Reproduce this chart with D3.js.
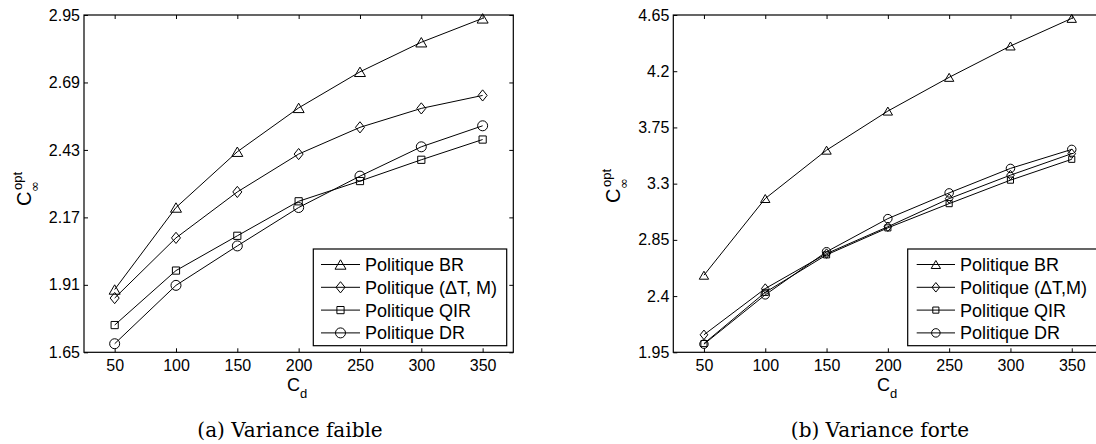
<!DOCTYPE html>
<html><head><meta charset="utf-8">
<script src="https://cdn.jsdelivr.net/npm/d3@7"></script>
<style>
html,body{margin:0;padding:0;background:#fff;}
svg{display:block;}
</style>
</head><body>
<svg id="chart" width="1096" height="444"></svg>
<script>
// ---------- data ----------
const cdValues = [50, 100, 150, 200, 250, 300, 350];
const xTicks = [50, 100, 150, 200, 250, 300, 350];

const namesA = ["Politique BR", "Politique (\u0394T, M)", "Politique QIR", "Politique DR"];
const namesB = ["Politique BR", "Politique (\u0394T,M)", "Politique QIR", "Politique DR"];
const markerKinds = ["triangle", "diamond", "square", "circle"];

// (a) Variance faible
const faibleBR  = [1.892, 2.208, 2.423, 2.592, 2.731, 2.845, 2.937];
const faibleDTM = [1.859, 2.091, 2.268, 2.414, 2.517, 2.590, 2.640];
const faibleQIR = [1.755, 1.965, 2.099, 2.232, 2.310, 2.392, 2.470];
const faibleDR  = [1.683, 1.908, 2.060, 2.208, 2.329, 2.442, 2.523];
const yTicksA = [1.65, 1.91, 2.17, 2.43, 2.69, 2.95];

// (b) Variance forte
const forteBR  = [2.567, 3.181, 3.568, 3.881, 4.151, 4.402, 4.623];
const forteDTM = [2.090, 2.460, 2.740, 2.955, 3.180, 3.368, 3.540];
const forteQIR = [2.020, 2.430, 2.730, 2.946, 3.140, 3.328, 3.495];
const forteDR  = [2.015, 2.410, 2.755, 3.020, 3.226, 3.422, 3.574];
const yTicksB = [1.95, 2.4, 2.85, 3.3, 3.75, 4.2, 4.65];

const captions = ["(a) Variance faible", "(b) Variance forte"];

// ---------- layout ----------
const panels = [
  { x0: 84, x1: 513.3, y0: 15, y1: 352.3, yDomain: [1.65, 2.95], yTicks: yTicksA,
    series: [faibleBR, faibleDTM, faibleQIR, faibleDR], names: namesA, ms: 1,
    legend: { x: 313.3, y: 249, w: 193.4, h: 96.7, l0: 321, l1: 360, tx: 365, r0: 264.5, step: 22.8 },
    ylab: [31, 206], xlab: 287, cap: 290 },
  { x0: 673.3, x1: 1102.4, y0: 15, y1: 352.3, yDomain: [1.95, 4.65], yTicks: yTicksB,
    series: [forteBR, forteDTM, forteQIR, forteDR], names: namesB, ms: 0.85,
    legend: { x: 907.7, y: 249, w: 192, h: 96.7, l0: 916.7, l1: 955, tx: 960, r0: 264.5, step: 22.8 },
    ylab: [620, 203], xlab: 877, cap: 880 }
];

const svg = d3.select("#chart");
const FONT = "'Liberation Sans', Arial, Helvetica, sans-serif";

function markerPath(kind, s) {
  if (kind === "triangle") {
    const hw = 5.5 * s, hh = 4.7 * s;
    return `M0,${-hh}L${hw},${hh}L${-hw},${hh}Z`;
  }
  if (kind === "diamond") {
    const hw = 4.5 * s, hh = 5.6 * s;
    return `M0,${-hh}L${hw},0L0,${hh}L${-hw},0Z`;
  }
  if (kind === "square") {
    const h = 3.6 * s;
    return `M${-h},${-h}H${h}V${h}H${-h}Z`;
  }
  const r = 5 * s;
  return `M${r},0A${r},${r} 0 1,1 ${-r},0A${r},${r} 0 1,1 ${r},0Z`;
}

panels.forEach((p, pi) => {
  const x = d3.scaleLinear().domain([25, 375]).range([p.x0, p.x1]);
  const y = d3.scaleLinear().domain(p.yDomain).range([p.y1, p.y0]);
  const g = svg.append("g");

  // axes
  const ax = g.append("g").attr("transform", `translate(0,${p.y1})`)
    .call(d3.axisBottom(x).tickValues(xTicks).tickSize(-4).tickPadding(7).tickFormat(d3.format("d")));
  const axT = g.append("g").attr("transform", `translate(0,${p.y0})`)
    .call(d3.axisTop(x).tickValues(xTicks).tickSize(-4).tickFormat(""));
  const ay = g.append("g").attr("transform", `translate(${p.x0},0)`)
    .call(d3.axisLeft(y).tickValues(p.yTicks).tickSize(-4).tickPadding(4).tickFormat(d => String(d)));
  const ayR = g.append("g").attr("transform", `translate(${p.x1},0)`)
    .call(d3.axisRight(y).tickValues(p.yTicks).tickSize(-4).tickFormat(""));
  [ax, axT, ay, ayR].forEach(a => {
    a.select(".domain").remove();
    a.selectAll(".tick line").attr("stroke", "#000").attr("stroke-width", 1);
    a.selectAll("text").attr("font-family", FONT).attr("font-size", 16).attr("fill", "#000");
  });

  // frame
  g.append("rect").attr("x", p.x0).attr("y", p.y0)
    .attr("width", p.x1 - p.x0).attr("height", p.y1 - p.y0)
    .attr("fill", "none").attr("stroke", "#000").attr("stroke-width", 1.2);

  // series
  const line = d3.line().x((d, i) => x(cdValues[i])).y(d => y(d));
  p.series.forEach((vals, si) => {
    g.append("path").datum(vals).attr("d", line)
      .attr("fill", "none").attr("stroke", "#000").attr("stroke-width", 1);
    g.selectAll(null).data(vals).enter().append("path")
      .attr("transform", (d, i) => `translate(${x(cdValues[i])},${y(d)})`)
      .attr("d", markerPath(markerKinds[si], p.ms))
      .attr("fill", "none").attr("stroke", "#000").attr("stroke-width", 1);
  });

  // legend
  const L = p.legend;
  g.append("rect").attr("x", L.x).attr("y", L.y).attr("width", L.w).attr("height", L.h)
    .attr("fill", "#fff").attr("stroke", "#000").attr("stroke-width", 1.2);
  p.names.forEach((nm, si) => {
    const ry = L.r0 + si * L.step;
    g.append("line").attr("x1", L.l0).attr("x2", L.l1).attr("y1", ry).attr("y2", ry)
      .attr("stroke", "#000").attr("stroke-width", 1);
    g.append("path").attr("transform", `translate(${(L.l0 + L.l1) / 2},${ry})`)
      .attr("d", markerPath(markerKinds[si], p.ms))
      .attr("fill", "none").attr("stroke", "#000").attr("stroke-width", 1);
    g.append("text").attr("x", L.tx).attr("y", ry + 6.5)
      .attr("font-family", FONT).attr("font-size", 18).attr("fill", "#000").text(nm);
  });

  // y label  C^opt_inf
  const yl = g.append("g").attr("transform", `translate(${p.ylab[0]},${p.ylab[1]}) rotate(-90)`);
  yl.append("text").attr("x", 0).attr("y", 0).attr("font-family", FONT).attr("font-size", 20).text("C");
  yl.append("text").attr("x", 16).attr("y", -9).attr("font-family", FONT).attr("font-size", 13).text("opt");
  yl.append("text").attr("x", 14).attr("y", 8).attr("font-family", "'DejaVu Sans', sans-serif").attr("font-size", 13).text("\u221E");

  // x label C_d
  const xl = g.append("text").attr("x", p.xlab).attr("y", 391).attr("font-family", FONT).attr("font-size", 18);
  xl.append("tspan").text("C");
  xl.append("tspan").attr("font-size", 13).attr("dy", 7).text("d");

  // caption
  g.append("text").attr("x", p.cap).attr("y", 437).attr("text-anchor", "middle")
    .attr("font-family", "'DejaVu Serif', 'Liberation Serif', serif").attr("font-size", 20)
    .attr("fill", "#000").text(captions[pi]);
});
</script>
</body></html>
